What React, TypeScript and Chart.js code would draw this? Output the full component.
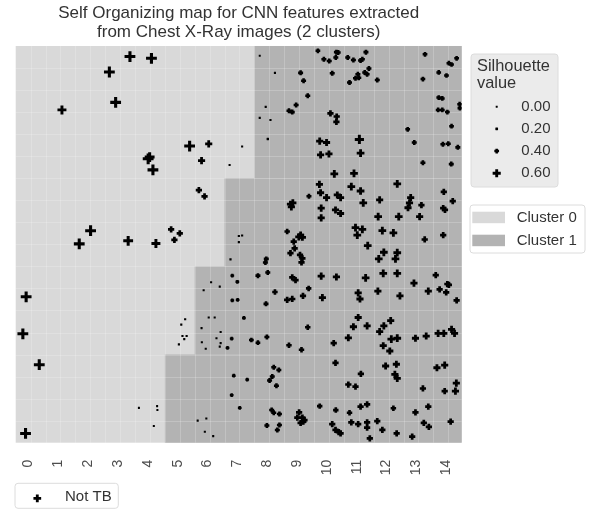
import React, { useEffect, useRef } from "react";
import { Chart, registerables } from "chart.js";

Chart.register(...registerables);

const FONT = '"Liberation Sans", Arial, Helvetica, sans-serif';

const TITLE = [
  "Self Organizing map for CNN features extracted",
  "from Chest X-Ray images (2 clusters)",
];
const X_TICKS = [0, 1, 2, 3, 4, 5, 6, 7, 8, 9, 10, 11, 12, 13, 14];
const X_MIN = -0.43;
const X_MAX = 14.52;
const Y_MIN = 0;
const Y_MAX = 9;
const GRID_STEP = 0.5;

const CLUSTER_NAMES = ["Cluster 0", "Cluster 1"];
const CLUSTER_COLORS = ["#d9d9d9", "#b3b3b3"];
// Cluster 1 occupies x >= CLUSTER1_START_X[i] within the y band [BAND_Y[i], BAND_Y[i+1]]
const BAND_Y = [0, 2, 4, 6, 9];
const CLUSTER1_START_X = [4.57, 5.57, 6.57, 7.57];

const SIL_BREAKS = [0, 0.2, 0.4, 0.6];
const SIL_LABELS = ["0.00", "0.20", "0.40", "0.60"];
const SERIES_NAME = "Not TB";

const somX = [
  3.40, 4.12, 2.71, 2.92, 1.12, 4.01, 4.06, 4.17, 2.08, 1.70, 3.34, 4.27, -0.08, -0.19, 0.36, -0.10,
  5.40, 6.04, 5.80, 5.71, 5.90, 4.78, 5.07, 4.89, 6.74, 7.16, 3.70, 4.31, 4.32, 4.20,
  5.25, 5.12, 5.16, 5.30, 5.22, 5.04,
  7.75, 8.26, 9.12, 9.22, 9.36, 8.97, 8.73, 8.84, 7.95, 7.75, 8.11, 8.02, 9.40,
  8.78, 8.86, 8.81, 8.67, 9.12, 9.06, 9.18, 7.05, 7.16, 7.05, 8.89, 8.92, 8.78, 9.10, 9.18, 9.15,
  6.77, 7.97, 7.94, 6.83, 7.00, 7.69, 8.02, 8.84, 8.95, 6.12, 6.41, 5.87, 8.26, 9.39, 9.20, 8.67, 8.84,
  6.83, 7.01, 7.96, 6.04, 6.24, 7.22, 5.80, 9.36, 6.44, 6.30, 6.81, 7.47, 7.69, 7.99,
  5.81, 6.44, 6.41, 5.94, 6.67, 8.73, 9.15, 8.22, 8.39, 8.17, 8.08, 6.88, 7.33, 8.31, 6.81, 7.08,
  8.15, 8.22, 8.41, 9.07, 9.01, 9.18, 9.25, 9.12, 9.21, 5.67, 5.96, 5.91, 6.19, 7.99, 8.41, 8.34,
  9.70, 9.90, 10.08, 10.32, 10.38, 10.30, 10.70, 10.89, 11.13, 11.19, 11.31, 11.41, 11.27, 11.35,
  11.04, 10.96, 11.07, 10.76, 11.69, 10.18,
  13.29, 13.22, 14.09, 14.18, 14.35, 13.75, 14.01, 13.75, 13.87, 13.73, 13.87, 14.04, 14.45, 14.46,
  14.18, 12.71, 12.93, 13.89, 14.07, 14.39, 13.22, 14.17,
  10.12, 10.33, 10.32, 9.76, 9.99, 11.09, 9.79, 10.07, 11.13, 10.25, 10.91, 9.75, 9.79, 9.99,
  10.35, 10.46, 10.82, 11.13, 11.22, 12.36, 11.77, 12.81, 12.77, 12.72, 13.17, 13.92, 14.22, 13.90, 13.96,
  9.81, 9.81, 10.29, 10.46, 11.72, 12.41, 13.11, 10.96, 11.19, 11.02, 11.86, 12.23, 13.90, 13.28,
  11.37, 11.91, 11.74, 12.36, 12.30, 9.81, 10.32, 11.30, 11.89, 12.36, 12.92, 13.65, 14.04, 14.09,
  13.78, 14.00, 13.40, 14.35, 9.85, 11.05, 11.11, 11.71, 12.45,
  11.05, 10.89, 11.35, 10.72, 10.23, 12.14, 11.91, 11.77, 12.16, 12.36, 11.89, 12.11,
  12.97, 13.33, 13.73, 13.92, 14.18, 14.28,
  10.29, 11.14, 11.97, 12.33, 12.28, 12.36, 13.69, 13.95, 10.72, 10.96, 13.22, 13.95, 14.34, 14.31,
  9.76, 10.30, 10.76, 11.13, 11.35, 12.23, 12.97, 13.40, 14.15, 13.25, 13.42,
  10.18, 10.29, 10.40, 10.46, 10.82, 11.05, 11.35, 11.35, 11.69, 11.86, 11.44, 12.34, 12.86,
];

const somY = [
  8.76, 8.72, 8.41, 7.72, 7.55, 6.44, 6.48, 6.19, 4.81, 4.51, 4.58, 4.52, 3.31, 2.47, 1.77, 0.21,
  6.73, 6.78, 6.40, 5.73, 5.59, 4.84, 4.75, 4.60, 6.30, 6.72, 0.79, 0.83, 0.74, 0.38,
  2.80, 2.68, 2.42, 2.42, 2.35, 2.23,
  8.78, 8.39, 8.39, 8.21, 7.87, 7.66, 7.53, 7.50, 7.62, 7.37, 7.32, 6.89, 5.59,
  5.41, 5.44, 5.35, 4.79, 4.71, 4.67, 4.66, 4.69, 4.70, 4.55, 4.56, 4.41, 4.30, 4.26, 4.18, 4.09,
  4.16, 4.17, 4.09, 3.79, 3.65, 3.79, 3.86, 3.75, 3.69, 3.64, 3.54, 3.46, 3.42, 3.50, 3.33, 3.24, 3.26,
  3.23, 3.24, 3.15, 2.84, 2.84, 2.83, 2.60, 2.62, 2.51, 2.37, 2.36, 2.33, 2.27, 2.40,
  2.28, 2.26, 2.18, 2.13, 2.15, 2.21, 2.11, 1.71, 1.65, 1.50, 1.41, 1.52, 1.43, 1.29, 1.08, 0.79,
  0.74, 0.68, 0.65, 0.69, 0.57, 0.57, 0.51, 0.45, 0.48, 0.50, 0.55, 0.25, 0.15, 0.39, 0.40, 0.29,
  8.89, 8.70, 8.66, 8.86, 8.85, 8.74, 8.74, 8.68, 8.67, 8.70, 8.86, 8.49, 8.40, 8.36,
  8.36, 8.27, 8.28, 8.17, 8.23, 8.38,
  8.81, 8.25, 8.61, 8.58, 8.72, 8.40, 8.33, 7.83, 7.81, 7.55, 7.55, 7.50, 7.68, 7.59,
  7.18, 7.11, 6.81, 6.77, 6.78, 6.70, 6.35, 6.32,
  7.47, 7.40, 7.28, 6.84, 6.81, 6.88, 6.53, 6.55, 6.57, 6.10, 6.11, 5.86, 5.67, 5.56,
  5.62, 5.56, 5.81, 5.71, 5.44, 5.87, 5.51, 5.56, 5.44, 5.33, 5.39, 5.69, 5.48, 5.32, 5.28,
  5.32, 5.10, 5.28, 5.20, 5.13, 5.13, 5.13, 4.88, 4.84, 4.71, 4.81, 4.76, 4.71, 4.61,
  4.47, 4.32, 4.17, 4.31, 4.17, 3.78, 3.76, 3.74, 3.84, 3.84, 3.62, 3.80, 3.60, 3.58,
  3.48, 3.41, 3.44, 3.23, 3.29, 3.40, 3.26, 3.44, 3.33,
  2.84, 2.63, 2.65, 2.38, 2.26, 2.77, 2.65, 2.52, 2.35, 2.37, 2.20, 2.08,
  2.37, 2.42, 2.48, 2.48, 2.57, 2.48,
  1.81, 1.56, 1.74, 1.78, 1.55, 1.46, 1.70, 1.76, 1.32, 1.27, 1.23, 1.17, 1.35, 1.17,
  0.83, 0.74, 0.68, 0.82, 0.87, 0.78, 0.69, 0.82, 0.48, 0.45, 0.36,
  0.42, 0.29, 0.24, 0.21, 0.46, 0.42, 0.46, 0.34, 0.49, 0.29, 0.10, 0.21, 0.14,
];

const silhouette = [
  0.72, 0.72, 0.72, 0.72, 0.64, 0.72, 0.68, 0.72, 0.72, 0.72, 0.68, 0.64, 0.72, 0.72, 0.72, 0.72,
  0.72, 0.55, 0.55, 0.5, 0.5, 0.5, 0.5, 0.5, 0.08, 0.08, 0.05, 0.05, 0.05, 0.05,
  0.1, 0.1, 0.1, 0.1, 0.1, 0.1,
  0.03, 0.1, 0.42, 0.42, 0.42, 0.42, 0.42, 0.42, 0.1, 0.1, 0.1, 0.15, 0.42,
  0.55, 0.55, 0.55, 0.45, 0.55, 0.55, 0.55, 0.1, 0.1, 0.1, 0.5, 0.5, 0.5, 0.5, 0.5, 0.5,
  0.12, 0.42, 0.42, 0.32, 0.32, 0.42, 0.42, 0.5, 0.5, 0.08, 0.08, 0.08, 0.45, 0.45, 0.5, 0.5, 0.5,
  0.32, 0.32, 0.42, 0.08, 0.08, 0.32, 0.08, 0.45, 0.08, 0.08, 0.32, 0.4, 0.4, 0.42,
  0.08, 0.08, 0.08, 0.08, 0.32, 0.45, 0.45, 0.42, 0.42, 0.42, 0.42, 0.32, 0.32, 0.42, 0.32, 0.32,
  0.42, 0.42, 0.42, 0.5, 0.5, 0.5, 0.5, 0.5, 0.5, 0.08, 0.08, 0.08, 0.08, 0.42, 0.42, 0.42,
  0.4, 0.42, 0.42, 0.42, 0.42, 0.42, 0.42, 0.42, 0.42, 0.42, 0.42, 0.42, 0.42, 0.42,
  0.42, 0.42, 0.42, 0.42, 0.42, 0.42,
  0.4, 0.4, 0.4, 0.4, 0.4, 0.4, 0.4, 0.4, 0.4, 0.4, 0.4, 0.4, 0.4, 0.4,
  0.4, 0.4, 0.42, 0.42, 0.42, 0.42, 0.42, 0.42,
  0.5, 0.5, 0.5, 0.55, 0.55, 0.65, 0.55, 0.55, 0.58, 0.58, 0.58, 0.55, 0.55, 0.55,
  0.55, 0.55, 0.58, 0.58, 0.58, 0.58, 0.55, 0.55, 0.55, 0.55, 0.5, 0.5, 0.5, 0.5, 0.5,
  0.55, 0.55, 0.55, 0.55, 0.58, 0.58, 0.55, 0.58, 0.58, 0.58, 0.58, 0.58, 0.5, 0.5,
  0.58, 0.58, 0.58, 0.58, 0.58, 0.55, 0.55, 0.58, 0.58, 0.58, 0.55, 0.5, 0.5, 0.5,
  0.5, 0.5, 0.55, 0.5, 0.55, 0.55, 0.55, 0.55, 0.55,
  0.55, 0.55, 0.55, 0.55, 0.5, 0.55, 0.55, 0.55, 0.58, 0.58, 0.55, 0.55,
  0.55, 0.55, 0.55, 0.55, 0.55, 0.55,
  0.5, 0.5, 0.55, 0.55, 0.55, 0.55, 0.55, 0.55, 0.5, 0.5, 0.5, 0.5, 0.55, 0.55,
  0.45, 0.45, 0.45, 0.5, 0.5, 0.45, 0.5, 0.5, 0.5, 0.5, 0.5,
  0.5, 0.5, 0.5, 0.5, 0.5, 0.5, 0.5, 0.5, 0.5, 0.5, 0.5, 0.5, 0.5,
];

// size of the "+" glyph for a silhouette value
const plusRadius = (s: number) => (2 + 17 * s * s) / 2;
const plusWidth = (s: number) => 1.8 + 1.8 * s;

function drawPlus(ctx: CanvasRenderingContext2D, cx: number, cy: number, s: number) {
  const r = plusRadius(s);
  ctx.save();
  ctx.strokeStyle = "#000";
  ctx.lineWidth = plusWidth(s);
  ctx.beginPath();
  ctx.moveTo(cx - r, cy);
  ctx.lineTo(cx + r, cy);
  ctx.moveTo(cx, cy - r);
  ctx.lineTo(cx, cy + r);
  ctx.stroke();
  ctx.restore();
}

function roundBox(ctx: CanvasRenderingContext2D, x: number, y: number, w: number, h: number, fill: string, stroke: string) {
  ctx.save();
  ctx.beginPath();
  if ((ctx as any).roundRect) (ctx as any).roundRect(x, y, w, h, 3);
  else ctx.rect(x, y, w, h);
  ctx.fillStyle = fill;
  ctx.fill();
  ctx.strokeStyle = stroke;
  ctx.lineWidth = 1;
  ctx.stroke();
  ctx.restore();
}

const backgroundPlugin = {
  id: "somBackground",
  beforeDatasetsDraw(chart: any) {
    const { ctx, chartArea: a } = chart;
    const xs = chart.scales.x;
    const ys = chart.scales.y;
    ctx.save();
    ctx.fillStyle = CLUSTER_COLORS[0];
    ctx.fillRect(a.left, a.top, a.right - a.left, a.bottom - a.top);
    ctx.fillStyle = CLUSTER_COLORS[1];
    for (let i = 0; i < CLUSTER1_START_X.length; i++) {
      const x0 = xs.getPixelForValue(CLUSTER1_START_X[i]);
      const yTop = ys.getPixelForValue(BAND_Y[i + 1]);
      const yBot = ys.getPixelForValue(BAND_Y[i]);
      ctx.fillRect(x0, yTop, a.right - x0, yBot - yTop);
    }
    ctx.strokeStyle = "rgba(255,255,255,0.2)";
    ctx.lineWidth = 1;
    ctx.beginPath();
    for (let v = X_MIN + GRID_STEP; v < X_MAX - 0.01; v += GRID_STEP) {
      const p = Math.round(xs.getPixelForValue(v)) + 0.5;
      ctx.moveTo(p, a.top);
      ctx.lineTo(p, a.bottom);
    }
    for (let v = Y_MIN + GRID_STEP; v < Y_MAX - 0.01; v += GRID_STEP) {
      const p = Math.round(ys.getPixelForValue(v)) + 0.5;
      ctx.moveTo(a.left, p);
      ctx.lineTo(a.right, p);
    }
    ctx.stroke();
    ctx.restore();
  },
};

const legendPlugin = {
  id: "somLegends",
  afterDraw(chart: any) {
    const { ctx, chartArea: a } = chart;
    const R = a.right;
    ctx.save();
    // Silhouette size legend
    const bx = R + 9.3;
    roundBox(ctx, bx, 54, 87, 133, "#ebebeb", "#dcdcdc");
    ctx.fillStyle = "#333";
    ctx.textBaseline = "middle";
    ctx.textAlign = "left";
    ctx.font = `16.4px ${FONT}`;
    ctx.fillText("Silhouette", bx + 6, 66.7);
    ctx.fillText("value", bx + 6, 83.3);
    ctx.font = `15px ${FONT}`;
    ctx.textAlign = "right";
    SIL_BREAKS.forEach((s, i) => {
      const yy = 106.7 + i * 22.2;
      drawPlus(ctx, bx + 25.7, yy, s);
      ctx.fillStyle = "#333";
      ctx.fillText(SIL_LABELS[i], bx + 79.5, yy);
    });
    // Cluster fill legend
    const cx = R + 8.3;
    roundBox(ctx, cx, 205, 115, 48, "#ffffff", "#dcdcdc");
    ctx.textAlign = "left";
    CLUSTER_NAMES.forEach((name, i) => {
      const top = 211.7 + i * 23;
      ctx.fillStyle = CLUSTER_COLORS[i];
      ctx.fillRect(cx + 2.3, top, 32.7, 11.5);
      ctx.fillStyle = "#333";
      ctx.fillText(name, cx + 46.7, top + 6);
    });
    // Series legend (bottom)
    roundBox(ctx, 15, 483.3, 103.3, 25, "#ffffff", "#dcdcdc");
    drawPlus(ctx, 37.3, 498.3, 0.58);
    ctx.fillStyle = "#333";
    ctx.fillText(SERIES_NAME, 65, 496.7);
    ctx.restore();
  },
};

export default function App() {
  const ref = useRef<HTMLCanvasElement | null>(null);
  useEffect(() => {
    if (!ref.current) return;
    const points = somX.map((x, i) => ({ x, y: somY[i] }));
    const chart = new Chart(ref.current, {
      type: "scatter",
      data: {
        datasets: [
          {
            label: SERIES_NAME,
            data: points,
            pointStyle: "cross",
            pointRadius: silhouette.map(plusRadius),
            pointBorderWidth: silhouette.map(plusWidth),
            pointBorderColor: "#000",
            pointBackgroundColor: "#000",
          },
        ],
      },
      options: {
        animation: false,
        responsive: false,
        events: [],
        layout: { padding: { left: 15.7, right: 127.3, top: 0, bottom: 0 } },
        plugins: {
          legend: { display: false },
          tooltip: { enabled: false },
          title: {
            display: true,
            text: TITLE,
            align: "center",
            color: "#333",
            font: { family: FONT, size: 17, weight: "normal", lineHeight: 1.12 },
            padding: { top: 3.5, bottom: 4.4 },
          },
        },
        scales: {
          x: {
            type: "linear",
            min: X_MIN,
            max: X_MAX,
            grid: { display: false, drawTicks: false },
            border: { display: false },
            afterBuildTicks: (scale: any) => {
              scale.ticks = X_TICKS.map((v) => ({ value: v }));
            },
            afterFit: (scale: any) => {
              scale.height = 67.3;
            },
            ticks: {
              autoSkip: false,
              minRotation: 90,
              maxRotation: 90,
              padding: 17,
              color: "#4d4d4d",
              font: { family: FONT, size: 14 },
              callback: (v: any) => String(v),
            },
          },
          y: { display: false, min: Y_MIN, max: Y_MAX },
        },
      },
      plugins: [backgroundPlugin, legendPlugin],
    } as any);
    return () => chart.destroy();
  }, []);
  return (
    <div style={{ position: "absolute", left: 0, top: 0, width: 589, height: 510, background: "#fff" }}>
      <canvas ref={ref} width={589} height={510} style={{ display: "block" }} />
    </div>
  );
}
